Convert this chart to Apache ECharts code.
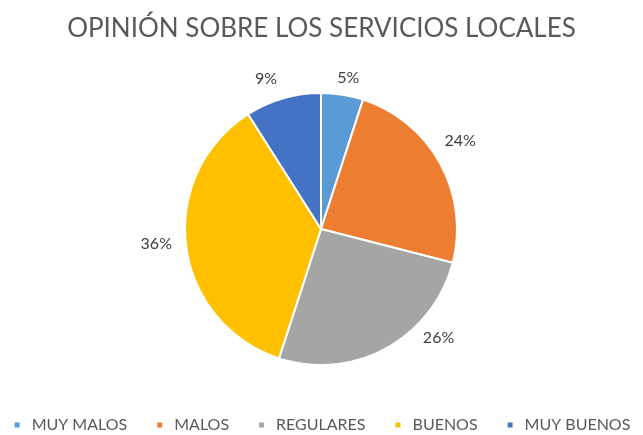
<!DOCTYPE html>
<html>
<head>
<meta charset="utf-8">
<script src="https://cdn.jsdelivr.net/npm/echarts@6/dist/echarts.min.js"></script>
<style>
    html, body { margin: 0; padding: 0; background: #fff; }
    #chart { width: 643px; height: 435px; }
</style>
</head>
<body>
<div id="chart"></div>
<script>
// datos del gráfico
const categories = ['MUY MALOS', 'MALOS', 'REGULARES', 'BUENOS', 'MUY BUENOS'];
const values = [5, 24, 26, 36, 9];
const colors = ['#5B9BD5', '#ED7D31', '#A5A5A5', '#FFC000', '#4472C4'];
// ajuste fino de las etiquetas (Excel las coloca a su manera)
const labelOffsets = [[2, 8], [-2, -11], [40, -32], [-5, -5], [-10, 4]];

const pieData = categories.map((name, i) => ({ name: name, value: values[i] }));
const labelData = categories.map((name, i) => ({
    name: name,
    value: values[i],
    label: { offset: labelOffsets[i] },
}));

const mychart = echarts.init(document.getElementById('chart'));
mychart.setOption({
    color: colors,
    title: {
        text: 'OPINIÓN SOBRE LOS SERVICIOS LOCALES',
        left: 'center',
        top: 11,
        textStyle: {
            color: '#595959',
            fontFamily: 'Lato',
            fontWeight: 'normal',
            fontSize: 26,
        },
    },
    legend: {
        bottom: -3,
        left: 'center',
        icon: 'rect',
        itemWidth: 7,
        itemHeight: 7,
        itemGap: 28,
        data: categories,
        textStyle: {
            color: '#595959',
            fontFamily: 'Lato',
            fontSize: 16,
            padding: [0, 0, 0, 6],
        },
    },
    series: [
        {
            type: 'pie',
            center: [321, 229],
            radius: [0, 136],
            startAngle: 90,
            data: pieData,
            label: { show: false },
            labelLine: { show: false },
            itemStyle: { borderColor: '#fff', borderWidth: 2 },
            emphasis: { disabled: true },
        },
        {
            // anillo transparente para colocar las etiquetas
            type: 'pie',
            center: [321, 229],
            radius: [154, 162],
            startAngle: 90,
            silent: true,
            data: labelData,
            itemStyle: { color: 'rgba(0,0,0,0)' },
            label: {
                show: true,
                position: 'inside',
                formatter: '{c}%',
                color: '#404040',
                fontFamily: 'Lato',
                fontSize: 16,
            },
            labelLine: { show: false },
        },
    ],
});
</script>
</body>
</html>
